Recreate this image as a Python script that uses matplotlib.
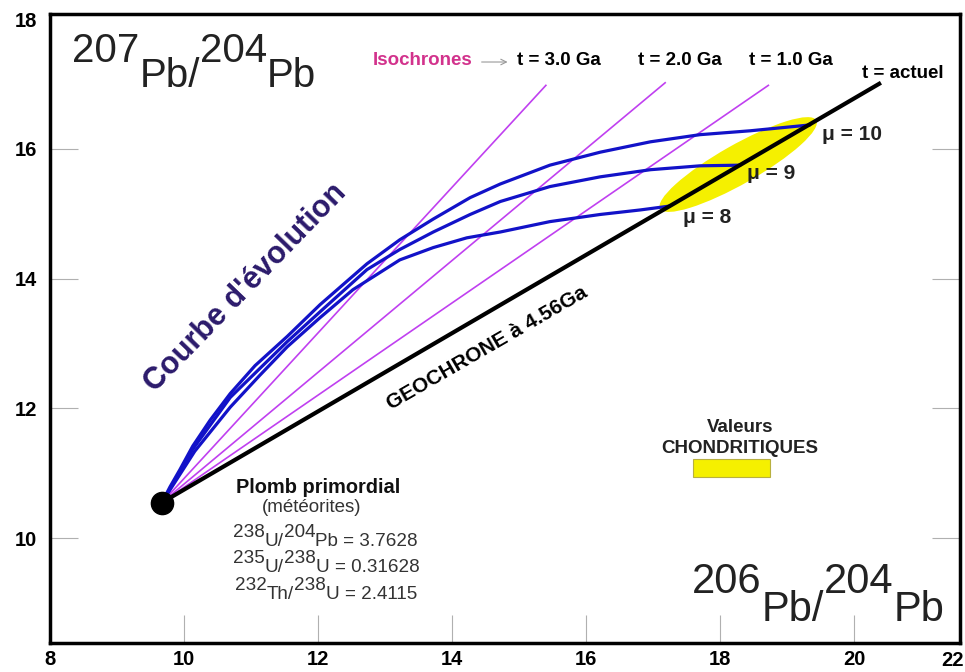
import matplotlib
matplotlib.use("Agg")
import matplotlib.pyplot as plt
from matplotlib.patches import Ellipse, Rectangle

plt.rcParams['font.family'] = ['Liberation Sans', 'DejaVu Sans']

# ---------------- data ----------------
primordial = (9.67, 10.55)

geochron_x = [9.67, 20.40]
geochron_y = [10.55, 17.02]

iso_labels = ["t = 3.0 Ga", "t = 2.0 Ga", "t = 1.0 Ga"]
iso_end_x = [15.40, 17.18, 18.72]
iso_end_y = [16.98, 17.02, 16.98]

mu10_x = [9.67, 9.79, 9.94, 10.13, 10.39, 10.69, 11.06, 11.54, 12.03, 12.73, 13.22,
          13.72, 14.27, 14.72, 15.46, 16.21, 16.96, 17.70, 18.45, 19.34]
mu10_y = [10.55, 10.79, 11.06, 11.42, 11.82, 12.23, 12.66, 13.11, 13.60, 14.23, 14.60,
          14.92, 15.25, 15.46, 15.75, 15.95, 16.11, 16.22, 16.28, 16.37]

mu9_x = [9.67, 10.13, 10.69, 11.54, 12.03, 12.73, 13.22, 13.72, 14.27, 14.72, 15.46,
         16.21, 16.96, 17.70, 18.30]
mu9_y = [10.55, 11.37, 12.17, 13.03, 13.49, 14.14, 14.45, 14.72, 14.99, 15.19, 15.42,
         15.57, 15.68, 15.74, 15.75]

mu8_x = [9.67, 10.16, 10.69, 11.13, 11.54, 12.03, 12.52, 13.22, 13.72, 14.22, 14.72,
         15.46, 16.21, 16.81, 17.25]
mu8_y = [10.55, 11.34, 12.02, 12.51, 12.95, 13.40, 13.83, 14.29, 14.48, 14.63, 14.72,
         14.88, 14.99, 15.06, 15.12]

mu_labels = ["\u03bc = 10", "\u03bc = 9", "\u03bc = 8"]

chondrite_center = (18.27, 15.76)
chondrite_size = (2.7, 0.6)
chondrite_angle = 30.4

xticks = [8, 10, 12, 14, 16, 18, 20]
yticks = [10, 12, 14, 16, 18]

# ---------------- figure ----------------
fig = plt.figure(figsize=(9.65, 6.72), dpi=100)
ax = fig.add_axes([50/965, 29/672, 910/965, 629/672])
ax.set_xlim(8, 21.58)
ax.set_ylim(8.385, 18.08)

for s in ax.spines.values():
    s.set_linewidth(2.5)
    s.set_color('black')

ax.set_xticks(xticks)
ax.set_yticks(yticks)
ax.tick_params(axis='both', direction='in', length=20, width=0.8, color='#b0b0b0',
               labelsize=14.5)
ax.tick_params(axis='x', pad=5)
ax.tick_params(axis='y', pad=9, right=True)
for lab in ax.get_xticklabels() + ax.get_yticklabels():
    lab.set_fontweight('bold')
yt = ax.yaxis.get_major_ticks()
yt[-1].tick1line.set_visible(False)
yt[-1].tick2line.set_visible(False)
ax.text(0.992, -0.013, "22", transform=ax.transAxes, ha='center', va='top',
        fontsize=14.5, fontweight='bold', clip_on=False)

# chondritic ellipse
ax.add_patch(Ellipse(chondrite_center, chondrite_size[0], chondrite_size[1],
                     angle=chondrite_angle, facecolor='#f5f000', edgecolor='none', zorder=1))

# isochrones
for ex, ey in zip(iso_end_x, iso_end_y):
    ax.plot([primordial[0], ex], [primordial[1], ey], color='#c040f0', lw=1.2, zorder=2)

# evolution curves
for cx, cy in [(mu10_x, mu10_y), (mu9_x, mu9_y), (mu8_x, mu8_y)]:
    ax.plot(cx, cy, color='#1212c8', lw=2.3, zorder=3, solid_capstyle='round',
            solid_joinstyle='round')

# geochron
ax.plot(geochron_x, geochron_y, color='black', lw=3.0, zorder=4, solid_capstyle='butt')

# primordial point
ax.plot([primordial[0]], [primordial[1]], 'o', color='black', ms=16, zorder=5)

# ---------------- labels ----------------
ax.text(12.81, 17.37, "Isochrones", color='#d2328c', fontsize=13.5, fontweight='bold',
        ha='left', va='center')
ax.annotate('', xy=(14.87, 17.34), xytext=(14.40, 17.34),
            arrowprops=dict(arrowstyle='->', color='#999999', lw=0.8))
iso_lab_x = [15.60, 17.40, 19.06]
for lx, lab in zip(iso_lab_x, iso_labels):
    ax.text(lx, 17.37, lab, fontsize=13.5, fontweight='bold', ha='center', va='center')
ax.text(20.73, 17.17, "t = actuel", fontsize=13.5, fontweight='bold', ha='center', va='center')

mu_pos = [(19.52, 16.22), (18.40, 15.62), (17.45, 14.95)]
for (mx, my), lab in zip(mu_pos, mu_labels):
    ax.text(mx, my, lab, fontsize=15, fontweight='bold', ha='left', va='center', color='#222222')

ax.text(10.91, 13.86, "Courbe d'\u00e9volution", fontsize=22, fontweight='bold',
        color='#2b1a6b', rotation=46, ha='center', va='center', rotation_mode='anchor')
ax.text(14.52, 12.93, "GEOCHRONE \u00e0 4.56Ga", fontsize=15, fontweight='bold',
        color='black', rotation=30, ha='center', va='center', rotation_mode='anchor')

ax.text(18.30, 11.70, "Valeurs", fontsize=13.5, fontweight='bold', ha='center', va='center',
        color='#222222')
ax.text(18.30, 11.38, "CHONDRITIQUES", fontsize=13.5, fontweight='bold', ha='center',
        va='center', color='#222222')
ax.add_patch(Rectangle((17.60, 10.94), 1.15, 0.28, facecolor='#f5f000',
                       edgecolor='#b8b040', lw=0.8, zorder=2))

ax.text(12.0, 10.70, "Plomb primordial", fontsize=14.4, fontweight='bold', ha='center',
        va='baseline', color='#111111')
ax.text(11.90, 10.41, "(m\u00e9t\u00e9orites)", fontsize=13.5, ha='center', va='baseline',
        color='#333333')


def chain(x, y, pieces, size, color):
    prev = None
    prev_rise = 0
    for s, rise in pieces:
        if prev is None:
            t = ax.annotate(s, xy=(x, y), xycoords='data', xytext=(0, rise),
                            textcoords='offset points', ha='left', va='baseline',
                            fontsize=size, color=color)
        else:
            t = ax.annotate(s, xy=(1, 0), xycoords=prev, xytext=(0, rise - prev_rise),
                            textcoords='offset points', ha='left', va='bottom',
                            fontsize=size, color=color)
        prev = t
        prev_rise = rise


r = 6.5
chain(10.73, 9.877, [("238", r), ("U/", 0), ("204", r), ("Pb = 3.7628", 0)], 13.6, '#333333')
chain(10.73, 9.477, [("235", r), ("U/", 0), ("238", r), ("U = 0.31628", 0)], 13.6, '#333333')
chain(10.76, 9.06, [("232", r), ("Th/", 0), ("238", r), ("U = 2.4115", 0)], 13.6, '#333333')

chain(8.33, 16.954, [("207", 18), ("Pb/", 0), ("204", 18), ("Pb", 0)], 29, '#222222')
chain(17.58, 8.723, [("206", 20), ("Pb/", 0), ("204", 20), ("Pb", 0)], 30, '#222222')

fig.savefig("out.png", dpi=100)
